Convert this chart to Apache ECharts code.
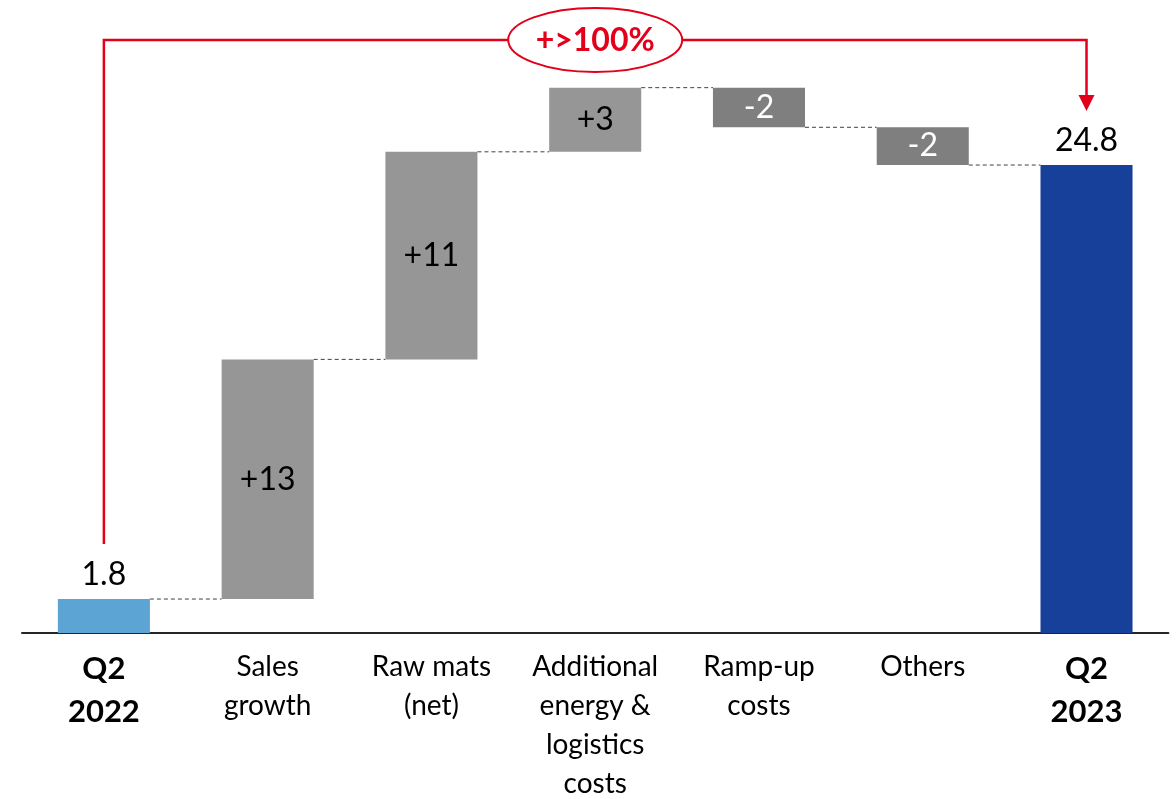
<!DOCTYPE html>
<html>
<head>
<meta charset="utf-8">
<script src="https://cdn.jsdelivr.net/npm/echarts@6/dist/echarts.min.js"></script>
<style>
  html,body{margin:0;padding:0;background:#fff;}
  #chart{width:1176px;height:799px;}
</style>
</head>
<body>
<div id="chart"></div>
<script>
var categories = ['Q2\n2022', 'Sales\ngrowth', 'Raw mats\n(net)', 'Additional\nenergy &\nlogistics\ncosts', 'Ramp-up\ncosts', 'Others', 'Q2\n2023'];
// first and last are totals, the rest are steps
var steps = [1.8, 12.7, 11.0, 3.4, -2.1, -2.0, 24.8];
var stepLabels = ['1.8', '+13', '+11', '+3', '-2', '-2', '24.8'];
var badgeText = '+>100%';

var BAR_W = 0.562;
var RED = '#E2001A';

var baseData = [], barData = [], levels = [];
var running = 0;
steps.forEach(function(v, i){
  var total = (i == 0 || i == steps.length - 1);
  var lo, h, color, txtColor, pos;
  if(total){
    lo = 0; h = v; running = v;
    color = i == 0 ? '#5BA4D4' : '#16409A';
    txtColor = '#000'; pos = 'top';
  }else{
    lo = v > 0 ? running : running + v;
    h = Math.abs(v);
    running += v;
    color = v > 0 ? '#969696' : '#7F7F7F';
    txtColor = v > 0 ? '#000' : '#fff';
    pos = 'inside';
  }
  levels.push([i, running]);
  baseData.push(lo);
  barData.push({
    value: h,
    itemStyle: {color: color},
    label: {show: true, position: pos, distance: 8, color: txtColor, formatter: stepLabels[i]}
  });
});
levels.pop();

var xData = categories.map(function(c, i){
  var bold = (i == 0 || i == categories.length - 1);
  return {
    value: c,
    textStyle: bold ? {fontWeight: 'bold', fontSize: 31, lineHeight: 43} : {fontSize: 28, lineHeight: 39}
  };
});

var chart = echarts.init(document.getElementById('chart'));
var option = {
  backgroundColor: '#fff',
  animation: false,
  textStyle: {fontFamily: 'Lato'},
  grid: {left: 22, right: 7.6, top: 66.9, bottom: 166, outerBoundsMode: 'none', containLabel: false},
  xAxis: {
    type: 'category',
    data: xData,
    axisLine: {lineStyle: {color: '#262626', width: 2}},
    axisTick: {show: false},
    axisLabel: {interval: 0, color: '#000', fontFamily: 'Lato', margin: 14, verticalAlign: 'top'}
  },
  yAxis: {type: 'value', min: 0, max: 30, show: false},
  series: [
    {
      name: 'base',
      type: 'bar',
      stack: 'wf',
      barWidth: (BAR_W * 100) + '%',
      itemStyle: {color: 'transparent'},
      silent: true,
      data: baseData
    },
    {
      name: 'value',
      type: 'bar',
      stack: 'wf',
      barWidth: (BAR_W * 100) + '%',
      label: {fontFamily: 'Lato', fontSize: 32},
      data: barData
    },
    {
      name: 'connectors',
      type: 'custom',
      silent: true,
      z: 1,
      data: levels,
      renderItem: function(params, api){
        var i = api.value(0), lv = api.value(1);
        var a = api.coord([i, lv]);
        var b = api.coord([i + 1, lv]);
        var half = api.size([1, 0])[0] * BAR_W / 2;
        return {
          type: 'line',
          shape: {x1: a[0] + half, y1: a[1], x2: b[0] - half, y2: b[1]},
          style: {stroke: '#404040', lineWidth: 1, lineDash: [4, 3]}
        };
      }
    }
  ]
};
chart.setOption(option);

// red bracket from first to last total
var last = steps.length - 1;
var p0 = chart.convertToPixel({gridIndex: 0}, [0, steps[0]]);
var p1 = chart.convertToPixel({gridIndex: 0}, [last, steps[last]]);
var topY = 40;
var yStart = p0[1] - 55;
var tipY = p1[1] - 54;
var midX = (p0[0] + p1[0]) / 2;
chart.setOption({
  graphic: [
    {
      type: 'polyline',
      z: 10,
      shape: {points: [[p0[0], yStart], [p0[0], topY], [p1[0], topY], [p1[0], tipY - 14]]},
      style: {stroke: RED, lineWidth: 2.5, fill: null}
    },
    {
      type: 'polygon',
      z: 10,
      shape: {points: [[p1[0] - 8, tipY - 16], [p1[0] + 8, tipY - 16], [p1[0], tipY]]},
      style: {fill: RED}
    },
    {
      type: 'ellipse',
      z: 11,
      shape: {cx: midX, cy: topY, rx: 87, ry: 32},
      style: {fill: '#fff', stroke: RED, lineWidth: 2}
    },
    {
      type: 'text',
      z: 12,
      x: midX,
      y: topY + 1,
      style: {text: badgeText, fill: RED, font: 'bold 32px Lato', align: 'center', verticalAlign: 'middle'}
    }
  ]
});
</script>
</body>
</html>
